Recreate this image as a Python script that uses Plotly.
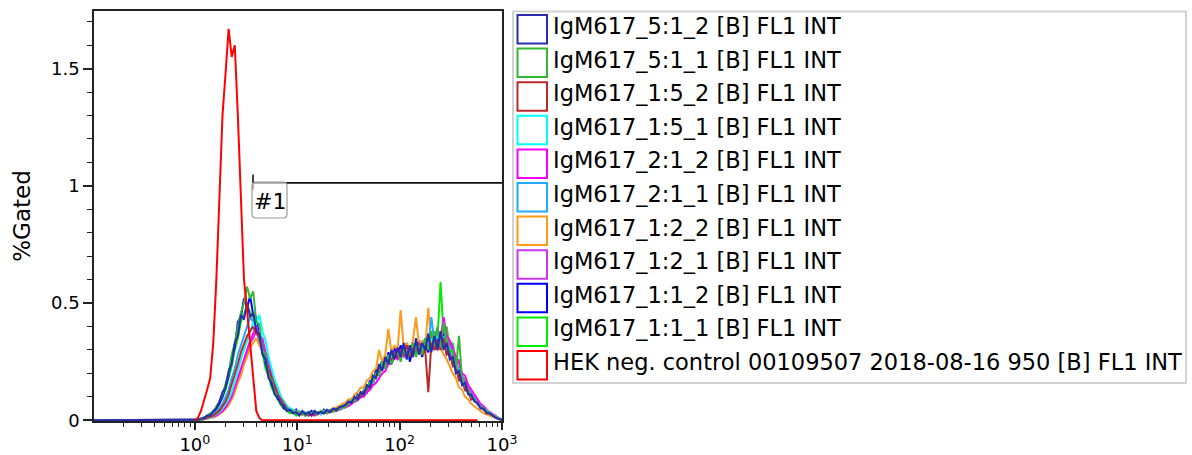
import plotly.graph_objects as go

# ---------------- data ----------------
# histogram bin centres, log10(FL1 INT)
log_fl1 = [-1.00,
    0.00, 0.03, 0.06, 0.09, 0.12, 0.15, 0.18, 0.21, 0.24, 0.27, 0.30, 0.33, 0.36, 0.39, 0.42, 0.45,
    0.48, 0.51, 0.54, 0.57, 0.60, 0.63, 0.66, 0.69, 0.72, 0.75, 0.78, 0.81, 0.84, 0.87, 0.90, 0.93,
    0.96, 0.99, 1.02, 1.05, 1.08, 1.11, 1.14, 1.17, 1.20, 1.23, 1.26, 1.29, 1.32, 1.35, 1.38, 1.41,
    1.44, 1.47, 1.50, 1.53, 1.56, 1.59, 1.62, 1.65, 1.68, 1.71, 1.74, 1.77, 1.80, 1.83, 1.86, 1.89,
    1.92, 1.95, 1.98, 2.01, 2.04, 2.07, 2.10, 2.13, 2.16, 2.19, 2.22, 2.25, 2.28, 2.31, 2.34, 2.37,
    2.40, 2.43, 2.46, 2.49, 2.52, 2.55, 2.58, 2.61, 2.64, 2.67, 2.70, 2.73, 2.76, 2.79, 2.82, 2.85,
    2.88, 2.91, 2.94, 2.97, 3.00]

names = [
    "IgM617_5:1_2 [B] FL1 INT",
    "IgM617_5:1_1 [B] FL1 INT",
    "IgM617_1:5_2 [B] FL1 INT",
    "IgM617_1:5_1 [B] FL1 INT",
    "IgM617_2:1_2 [B] FL1 INT",
    "IgM617_2:1_1 [B] FL1 INT",
    "IgM617_1:2_2 [B] FL1 INT",
    "IgM617_1:2_1 [B] FL1 INT",
    "IgM617_1:1_2 [B] FL1 INT",
    "IgM617_1:1_1 [B] FL1 INT",
    "HEK neg. control 00109507 2018-08-16 950 [B] FL1 INT",
]

colors = ["#2a2ab4", "#33b833", "#bb2a2a", "#00ffff", "#ff00ff", "#22aaff",
          "#ff9a1a", "#c836f2", "#0000ff", "#00ee00", "#ff0000"]

igm_5_1_2 = [0,
    0, 0.002, 0.008, 0.01, 0.02, 0.02, 0.04, 0.05, 0.08, 0.12, 0.14, 0.21, 0.24, 0.33, 0.36, 0.45,
    0.43, 0.5, 0.44, 0.46, 0.38, 0.37, 0.28, 0.26, 0.18, 0.16, 0.11, 0.1, 0.07, 0.06, 0.04,
    0.045, 0.03, 0.035, 0.02, 0.04, 0.025, 0.035, 0.02, 0.04, 0.03, 0.035, 0.03, 0.045, 0.035, 0.05,
    0.045, 0.055, 0.06, 0.065,
    0.08, 0.075, 0.1, 0.09, 0.12, 0.11, 0.15, 0.14, 0.19, 0.18, 0.24, 0.21, 0.27, 0.24, 0.3, 0.26, 0.31,
    0.27, 0.33, 0.26, 0.32, 0.27, 0.35, 0.28, 0.33, 0.3, 0.37, 0.29, 0.36, 0.3, 0.38, 0.3, 0.33, 0.26,
    0.27, 0.2, 0.21, 0.15, 0.16, 0.11, 0.11, 0.08, 0.075, 0.05, 0.05, 0.03, 0.03, 0.018, 0.01, 0.005, 0.002]

igm_5_1_1 = [0,
    0, 0, 0.005, 0.012, 0.02, 0.03, 0.035, 0.06, 0.08, 0.11, 0.16, 0.2, 0.28, 0.33, 0.4, 0.46,
    0.5, 0.57, 0.52, 0.55, 0.42, 0.41, 0.3, 0.28, 0.19, 0.17, 0.12, 0.1, 0.07, 0.06, 0.045,
    0.035, 0.04, 0.025, 0.035, 0.03, 0.02, 0.035, 0.03, 0.04, 0.025, 0.04, 0.035, 0.03, 0.045, 0.04,
    0.05, 0.045, 0.06, 0.055,
    0.07, 0.085, 0.08, 0.1, 0.12, 0.11, 0.14, 0.16, 0.17, 0.2, 0.19, 0.25, 0.22, 0.28, 0.24, 0.27, 0.3,
    0.25, 0.31, 0.26, 0.3, 0.33, 0.27, 0.32, 0.28, 0.35, 0.3, 0.38, 0.32, 0.4, 0.31, 0.42, 0.34, 0.29,
    0.3, 0.22, 0.36, 0.17, 0.15, 0.13, 0.1, 0.09, 0.07, 0.06, 0.045, 0.04, 0.03, 0.022, 0.012, 0.006, 0.002]

igm_1_5_2 = [0,
    0, 0, 0.003, 0.006, 0.01, 0.015, 0.02, 0.03, 0.04, 0.06, 0.08, 0.11, 0.15, 0.19, 0.24, 0.29,
    0.33, 0.36, 0.38, 0.4, 0.37, 0.36, 0.3, 0.27, 0.22, 0.18, 0.14, 0.11, 0.09, 0.07, 0.05,
    0.04, 0.04, 0.03, 0.035, 0.025, 0.03, 0.02, 0.03, 0.025, 0.03, 0.035, 0.03, 0.04, 0.035, 0.045,
    0.04, 0.05, 0.055, 0.06,
    0.07, 0.08, 0.085, 0.1, 0.1, 0.125, 0.13, 0.15, 0.17, 0.2, 0.21, 0.24, 0.23, 0.27, 0.25, 0.29, 0.27,
    0.3, 0.28, 0.32, 0.27, 0.31, 0.29, 0.33, 0.28, 0.3, 0.12, 0.33, 0.3, 0.34, 0.3, 0.35, 0.28, 0.29,
    0.23, 0.23, 0.17, 0.17, 0.13, 0.12, 0.09, 0.09, 0.07, 0.055, 0.045, 0.035, 0.028, 0.02, 0.012, 0.006, 0.002]

igm_1_5_1 = [0,
    0, 0, 0.002, 0.005, 0.008, 0.012, 0.018, 0.025, 0.035, 0.05, 0.07, 0.09, 0.12, 0.16, 0.21, 0.26,
    0.3, 0.35, 0.38, 0.42, 0.41, 0.45, 0.38, 0.34, 0.27, 0.22, 0.17, 0.14, 0.1, 0.08, 0.06,
    0.05, 0.045, 0.035, 0.04, 0.03, 0.035, 0.025, 0.03, 0.03, 0.035, 0.025, 0.04, 0.035, 0.04, 0.045,
    0.04, 0.055, 0.05, 0.065,
    0.07, 0.085, 0.09, 0.1, 0.11, 0.13, 0.13, 0.16, 0.16, 0.2, 0.2, 0.23, 0.24, 0.26, 0.27, 0.28, 0.29,
    0.29, 0.3, 0.3, 0.3, 0.31, 0.3, 0.32, 0.31, 0.34, 0.32, 0.35, 0.33, 0.36, 0.33, 0.34, 0.3, 0.3,
    0.26, 0.24, 0.2, 0.17, 0.15, 0.12, 0.11, 0.09, 0.075, 0.06, 0.05, 0.04, 0.03, 0.022, 0.014, 0.007, 0.003]

igm_2_1_2 = [0,
    0, 0, 0.002, 0.005, 0.008, 0.012, 0.015, 0.02, 0.03, 0.04, 0.055, 0.08, 0.1, 0.14, 0.18, 0.23,
    0.27, 0.31, 0.34, 0.37, 0.4, 0.36, 0.35, 0.29, 0.26, 0.2, 0.17, 0.13, 0.1, 0.08, 0.06,
    0.05, 0.04, 0.04, 0.03, 0.035, 0.025, 0.03, 0.025, 0.02, 0.03, 0.025, 0.035, 0.03, 0.035, 0.04,
    0.04, 0.045, 0.05, 0.055,
    0.06, 0.07, 0.08, 0.085, 0.1, 0.1, 0.12, 0.13, 0.15, 0.16, 0.18, 0.2, 0.21, 0.24, 0.24, 0.27, 0.26,
    0.29, 0.27, 0.3, 0.29, 0.31, 0.3, 0.33, 0.3, 0.34, 0.32, 0.36, 0.33, 0.38, 0.35, 0.44, 0.36, 0.34,
    0.31, 0.27, 0.25, 0.2, 0.19, 0.15, 0.13, 0.11, 0.09, 0.07, 0.06, 0.045, 0.035, 0.025, 0.016, 0.009, 0.004]

igm_2_1_1 = [0,
    0, 0, 0.003, 0.008, 0.012, 0.018, 0.025, 0.035, 0.05, 0.07, 0.1, 0.13, 0.18, 0.22, 0.28, 0.32,
    0.37, 0.4, 0.44, 0.42, 0.4, 0.35, 0.31, 0.25, 0.21, 0.16, 0.13, 0.1, 0.08, 0.06, 0.05,
    0.04, 0.035, 0.03, 0.03, 0.025, 0.035, 0.02, 0.03, 0.03, 0.025, 0.035, 0.03, 0.04, 0.035, 0.045,
    0.045, 0.05, 0.06, 0.06,
    0.07, 0.08, 0.09, 0.095, 0.11, 0.12, 0.14, 0.15, 0.17, 0.19, 0.21, 0.22, 0.24, 0.26, 0.26, 0.28, 0.28,
    0.29, 0.29, 0.31, 0.28, 0.32, 0.29, 0.33, 0.31, 0.35, 0.32, 0.44, 0.33, 0.37, 0.32, 0.36, 0.3, 0.31,
    0.25, 0.24, 0.19, 0.18, 0.14, 0.13, 0.1, 0.09, 0.07, 0.06, 0.045, 0.04, 0.03, 0.02, 0.012, 0.006, 0.002]

igm_1_2_2 = [0,
    0, 0, 0.002, 0.004, 0.006, 0.01, 0.012, 0.018, 0.025, 0.035, 0.05, 0.065, 0.09, 0.12, 0.16, 0.19,
    0.24, 0.27, 0.31, 0.33, 0.35, 0.32, 0.3, 0.26, 0.22, 0.18, 0.14, 0.11, 0.09, 0.07, 0.05,
    0.045, 0.035, 0.04, 0.03, 0.025, 0.03, 0.02, 0.03, 0.035, 0.03, 0.04, 0.035, 0.045, 0.04, 0.05,
    0.055, 0.06, 0.07, 0.075,
    0.09, 0.09, 0.11, 0.12, 0.14, 0.14, 0.17, 0.18, 0.21, 0.22, 0.3, 0.25, 0.28, 0.39, 0.29, 0.32, 0.3,
    0.47, 0.31, 0.33, 0.3, 0.34, 0.44, 0.32, 0.34, 0.31, 0.48, 0.33, 0.32, 0.3, 0.31, 0.28, 0.26, 0.23,
    0.2, 0.18, 0.14, 0.13, 0.1, 0.09, 0.07, 0.06, 0.05, 0.04, 0.03, 0.025, 0.02, 0.012, 0.008, 0.004, 0.001]

igm_1_2_1 = [0,
    0, 0, 0.002, 0.004, 0.007, 0.01, 0.015, 0.02, 0.028, 0.04, 0.055, 0.075, 0.1, 0.13, 0.17, 0.21,
    0.25, 0.29, 0.33, 0.35, 0.38, 0.34, 0.33, 0.28, 0.24, 0.19, 0.16, 0.12, 0.1, 0.075, 0.06,
    0.045, 0.04, 0.035, 0.035, 0.03, 0.025, 0.03, 0.02, 0.03, 0.025, 0.035, 0.03, 0.035, 0.04, 0.04,
    0.05, 0.045, 0.06, 0.06,
    0.07, 0.08, 0.085, 0.1, 0.105, 0.12, 0.13, 0.15, 0.16, 0.19, 0.2, 0.23, 0.23, 0.26, 0.26, 0.29, 0.28,
    0.3, 0.29, 0.31, 0.3, 0.32, 0.3, 0.34, 0.31, 0.35, 0.33, 0.36, 0.34, 0.39, 0.34, 0.4, 0.32, 0.33,
    0.28, 0.26, 0.21, 0.19, 0.15, 0.14, 0.11, 0.1, 0.08, 0.065, 0.05, 0.04, 0.032, 0.024, 0.015, 0.008, 0.003]

igm_1_1_2 = [0,
    0, 0, 0.004, 0.012, 0.01, 0.025, 0.03, 0.05, 0.07, 0.1, 0.15, 0.19, 0.27, 0.31, 0.42, 0.44,
    0.52, 0.48, 0.53, 0.45, 0.44, 0.35, 0.33, 0.24, 0.21, 0.15, 0.13, 0.09, 0.08, 0.05, 0.05,
    0.04, 0.03, 0.045, 0.025, 0.035, 0.02, 0.03, 0.04, 0.025, 0.035, 0.03, 0.045, 0.03, 0.04, 0.05,
    0.04, 0.06, 0.05, 0.07,
    0.065, 0.09, 0.08, 0.11, 0.1, 0.13, 0.12, 0.17, 0.15, 0.22, 0.2, 0.26, 0.22, 0.29, 0.25, 0.31, 0.26,
    0.32, 0.27, 0.33, 0.25, 0.31, 0.28, 0.34, 0.27, 0.32, 0.29, 0.36, 0.3, 0.35, 0.31, 0.37, 0.28, 0.3,
    0.24, 0.25, 0.18, 0.19, 0.13, 0.14, 0.09, 0.1, 0.07, 0.06, 0.05, 0.035, 0.03, 0.02, 0.012, 0.006, 0.002]

igm_1_1_1 = [0,
    0, 0, 0.004, 0.008, 0.015, 0.02, 0.035, 0.045, 0.07, 0.1, 0.13, 0.18, 0.23, 0.3, 0.35, 0.42,
    0.45, 0.49, 0.46, 0.44, 0.4, 0.33, 0.29, 0.22, 0.19, 0.14, 0.11, 0.09, 0.065, 0.05, 0.04,
    0.03, 0.035, 0.02, 0.03, 0.025, 0.035, 0.02, 0.03, 0.025, 0.035, 0.03, 0.04, 0.035, 0.04, 0.035,
    0.05, 0.05, 0.055, 0.065,
    0.075, 0.08, 0.095, 0.095, 0.12, 0.12, 0.15, 0.15, 0.19, 0.19, 0.23, 0.22, 0.26, 0.24, 0.28, 0.27, 0.3,
    0.28, 0.3, 0.28, 0.31, 0.27, 0.32, 0.29, 0.33, 0.3, 0.34, 0.31, 0.38, 0.35, 0.59, 0.36, 0.4, 0.3,
    0.33, 0.23, 0.26, 0.17, 0.18, 0.12, 0.12, 0.09, 0.08, 0.06, 0.05, 0.04, 0.03, 0.02, 0.012, 0.006, 0.002]

hek_neg_control = [None,
    0.0, 0.01, 0.04, 0.08, 0.13, 0.18, 0.33, 0.6, 0.92, 1.3, 1.48, 1.67, 1.55, 1.6, 1.3, 0.98,
    0.6, 0.47, 0.33, 0.16, 0.04, 0.01, 0, 0, 0, 0, 0, 0, 0, 0, 0,
    0, 0, 0, 0, 0, 0, 0, 0, 0, 0, 0, 0, 0, 0, 0, 0, 0, 0, 0,
    0, 0, 0, 0, 0, 0, 0, 0, 0, 0, 0, 0, 0, 0, 0, 0, 0,
    0, 0, 0, 0, 0, 0, 0, 0, 0, 0, 0, 0, 0, 0, 0, 0, 0,
    0, 0, 0, 0, 0, 0, 0, 0, 0, None, None, None, None, None, None, None, None]

series = [igm_5_1_2, igm_5_1_1, igm_1_5_2, igm_1_5_1, igm_2_1_2, igm_2_1_1,
          igm_1_2_2, igm_1_2_1, igm_1_1_2, igm_1_1_1, hek_neg_control]

x_tick_vals = [1, 10, 100, 1000]
x_tick_text = ["10<sup>0</sup>", "10<sup>1</sup>", "10<sup>2</sup>", "10<sup>3</sup>"]
x_minor_vals = [m * d for d in (0.1, 1, 10, 100) for m in range(2, 10)]
y_tick_vals = [0, 0.5, 1, 1.5]
y_tick_text = ["0", "0.5", "1", "1.5"]

gate_low = 3.7        # gate #1 lower bound (FL1 INT)
gate_high = 1000      # gate #1 upper bound (FL1 INT)
gate_level = 1.013    # height the gate bar is drawn at (%Gated)

for s in series:
    assert len(s) == len(log_fl1), (len(s), len(log_fl1))

# ---------------- figure ----------------
x_vals = [10 ** v for v in log_fl1]
fig = go.Figure()
draw_order = list(range(10))[::-1] + [10]
for k in draw_order:
    fig.add_trace(go.Scatter(
        x=x_vals, y=series[k], mode="lines", name=names[k],
        line=dict(color=colors[k], width=2), showlegend=False))

L, R, T, B = 94, 502, 11, 421
W, H = R - L, B - T
def px(xp):
    return (xp - L) / W
def py(yp):
    return (B - yp) / H

shapes = []
annotations = []

# legend frame
shapes.append(dict(type="rect", xref="paper", yref="paper",
                   x0=px(513), x1=px(1186), y0=py(383), y1=py(11.5),
                   line=dict(color="#d2d2d2", width=2), fillcolor="white", layer="below"))
pitch = 33.6
for k, nm in enumerate(names):
    top = 15 + pitch * k
    shapes.append(dict(type="rect", xref="paper", yref="paper",
                       x0=px(517.5), x1=px(547), y0=py(top + 28.5), y1=py(top),
                       line=dict(color=colors[k], width=2), fillcolor="white"))
    annotations.append(dict(xref="paper", yref="paper", x=px(551), y=py(top + 11),
                            xanchor="left", yanchor="middle", showarrow=False, text=nm,
                            font=dict(family="DejaVu Sans", size=22.5, color="black")))

# gate #1
shapes.append(dict(type="line", xref="x", yref="y", x0=gate_low, x1=gate_high,
                   y0=gate_level, y1=gate_level, line=dict(color="#111", width=1.6)))
shapes.append(dict(type="line", xref="x", yref="y", x0=gate_low, x1=gate_low,
                   y0=gate_level - 0.03, y1=gate_level + 0.035, line=dict(color="#111", width=1.6)))
bx0, bx1, by0, by1 = px(252), px(287), py(218), py(182)
rx, ry = 4 / W, 4 / H
path = (f"M {bx0+rx},{by1} L {bx1-rx},{by1} Q {bx1},{by1} {bx1},{by1-ry} "
        f"L {bx1},{by0+ry} Q {bx1},{by0} {bx1-rx},{by0} L {bx0+rx},{by0} "
        f"Q {bx0},{by0} {bx0},{by0+ry} L {bx0},{by1-ry} Q {bx0},{by1} {bx0+rx},{by1} Z")
shapes.append(dict(type="path", xref="paper", yref="paper", path=path,
                   line=dict(color="#999999", width=1.2), fillcolor="rgba(255,255,255,0.6)"))
annotations.append(dict(xref="paper", yref="paper", x=px(269.5), y=py(201),
                        xanchor="center", yanchor="middle", showarrow=False, text="#1",
                        font=dict(family="DejaVu Sans", size=22, color="black")))

fig.update_layout(
    width=1192, height=455,
    margin=dict(l=L, r=1192 - R, t=T, b=455 - B, pad=0, autoexpand=False),
    paper_bgcolor="white", plot_bgcolor="white",
    font=dict(family="DejaVu Sans", color="black"),
    showlegend=False,
    shapes=shapes, annotations=annotations,
    xaxis=dict(type="log", range=[-0.985, 3.0], tickvals=x_tick_vals, ticktext=x_tick_text,
               ticks="outside", ticklen=7, tickwidth=1.5, tickcolor="#222",
               showline=True, linecolor="#222", linewidth=1.5, mirror=True,
               showgrid=False, zeroline=False, layer="below traces", automargin=False,
               tickfont=dict(size=18, color="black"),
               minor=dict(tickvals=x_minor_vals, ticks="outside", ticklen=4,
                          tickwidth=1.2, tickcolor="#222", showgrid=False)),
    yaxis=dict(range=[-0.003, 1.746], tickvals=y_tick_vals, ticktext=y_tick_text,
               ticks="outside", ticklen=9, tickwidth=1.5, tickcolor="#222",
               showline=True, linecolor="#222", linewidth=1.5, mirror=True,
               showgrid=False, zeroline=False, layer="below traces", automargin=False,
               tickfont=dict(size=18, color="black"),
               minor=dict(dtick=0.1, ticks="outside", ticklen=5, tickwidth=1.2,
                          tickcolor="#222", showgrid=False),
               title=dict(text="%Gated", font=dict(size=23, color="black"), standoff=14)),
)

fig.write_html("out.html")
